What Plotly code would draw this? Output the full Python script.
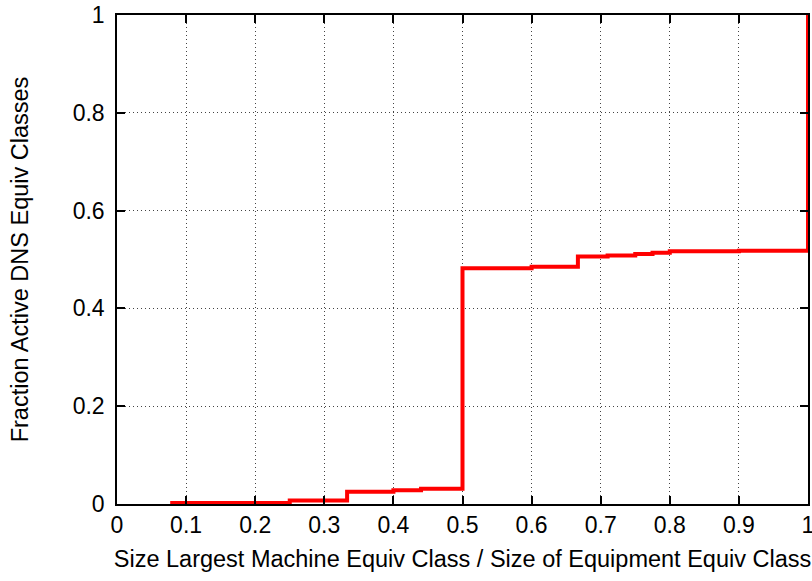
import plotly.graph_objects as go

x_vals = [0.077, 0.25, 0.333, 0.4, 0.44, 0.5, 0.6, 0.667, 0.71, 0.75, 0.775, 0.8, 0.9, 1.0, 1.0]
y_vals = [0.002, 0.007, 0.025, 0.028, 0.031, 0.482, 0.485, 0.506, 0.508, 0.511, 0.514, 0.517, 0.518, 0.52, 1.0]

x_ticks = [0, 0.1, 0.2, 0.3, 0.4, 0.5, 0.6, 0.7, 0.8, 0.9, 1]
x_labels = ["0", "0.1", "0.2", "0.3", "0.4", "0.5", "0.6", "0.7", "0.8", "0.9", "1"]
y_ticks = [0, 0.2, 0.4, 0.6, 0.8, 1]
y_labels = ["0", "0.2", "0.4", "0.6", "0.8", "1"]

FONT = "Liberation Sans, Arial, sans-serif"
FS_TICK = 23
FS_TITLE = 23.5

fig = go.Figure()
fig.add_trace(go.Scatter(x=x_vals, y=y_vals, mode="lines", line=dict(color="#ff0000", width=4, shape="hv"),
                         showlegend=False))

axis_common = dict(showline=True, linecolor="black", linewidth=1.5, mirror="ticks",
                   ticks="inside", ticklen=8, tickcolor="black", tickwidth=1.5,
                   showgrid=True, gridcolor="#444444", griddash="1px,3px", gridwidth=1,
                   zeroline=False, tickfont=dict(family=FONT, size=FS_TICK, color="black"),
                   automargin=False, ticklabeloverflow="allow")

fig.update_xaxes(range=[0, 1], tickvals=x_ticks, ticktext=x_labels,
                 title=dict(text="Size Largest Machine Equiv Class / Size of Equipment Equiv Class",
                            font=dict(family=FONT, size=FS_TITLE, color="black"), standoff=13),
                 **axis_common)
fig.update_yaxes(range=[0, 1], tickvals=y_ticks, ticktext=y_labels, ticklabelstandoff=6,
                 title=dict(text="Fraction Active DNS Equiv Classes",
                            font=dict(family=FONT, size=FS_TITLE, color="black"), standoff=37),
                 **axis_common)

fig.update_layout(width=812, height=581, margin=dict(l=117, r=4, t=15, b=77),
                  plot_bgcolor="white", paper_bgcolor="white")

# remove the default page margin so the figure fills the window exactly
fig.write_html("out.html", config={"displayModeBar": False},
               post_script="document.body.style.margin='0';document.body.style.overflow='hidden';")
